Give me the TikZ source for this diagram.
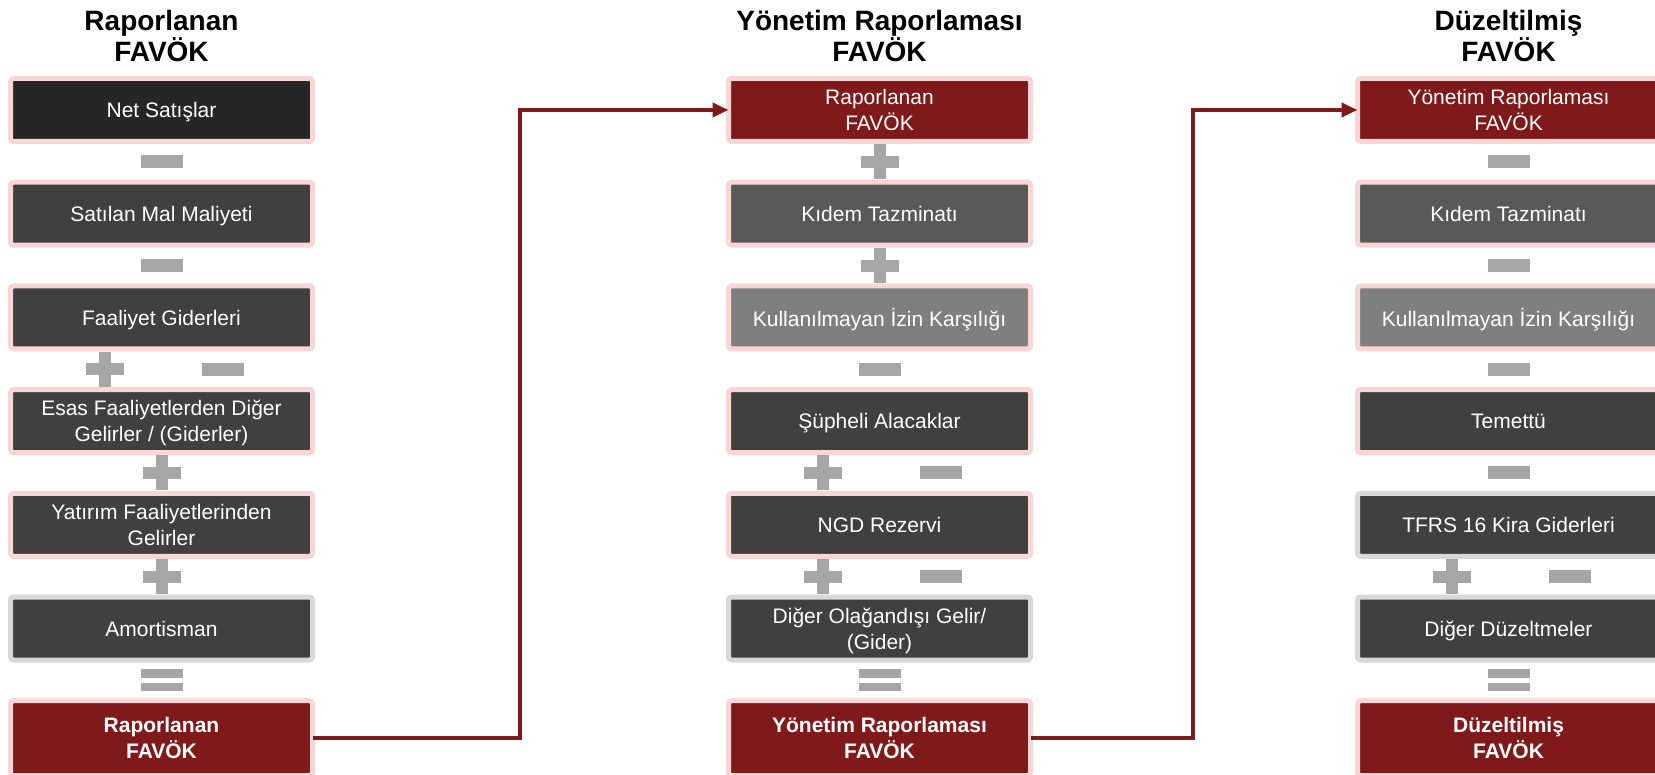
\documentclass[tikz,border=0pt]{standalone}
\usepackage{fontspec}
\setmainfont{Liberation Sans}
\usetikzlibrary{arrows.meta, positioning, calc}

\definecolor{favred}{RGB}{128,26,26}
\definecolor{netfill}{RGB}{38,38,38}
\definecolor{darkfill}{RGB}{64,64,64}
\definecolor{midfill}{RGB}{89,89,89}
\definecolor{lightfill}{RGB}{127,127,127}
\definecolor{pinkedge}{RGB}{249,214,214}
\definecolor{grayedge}{RGB}{217,217,217}
\definecolor{opgray}{RGB}{166,166,166}

\tikzset{
	minussign/.pic={\fill[opgray] (-21,-6.5) rectangle (21,6.5);},
	plussign/.pic={\fill[opgray] (-19,-6) rectangle (19,6);
		\fill[opgray] (-6,-17.5) rectangle (6,17.5);},
	equalsign/.pic={\fill[opgray] (-21,-11) rectangle (21,-2.5);
		\fill[opgray] (-21,2.5) rectangle (21,11);}
}

\begin{document}
\begin{tikzpicture}[
		x=0.5pt, y=-0.5pt,
		node distance=20.35pt,
		every node/.style={font=\fontsize{10.5pt}{13pt}\selectfont, text=white, align=center},
		stepbox/.style={rectangle, rounded corners=1.5pt, line width=2.5pt, minimum width=151pt, minimum height=31.5pt, inner sep=1pt, outer sep=0pt, text depth=0pt, draw=pinkedge, fill=darkfill},
		grayrim/.style={draw=grayedge},
		total/.style={stepbox, fill=favred, minimum height=37.5pt, font=\fontsize{10.5pt}{13pt}\selectfont\bfseries},
		title/.style={font=\fontsize{14pt}{15.5pt}\selectfont\bfseries, text=black, inner sep=0pt, outer sep=0pt},
		flow/.style={draw=favred, line width=2pt, -{Triangle[length=8pt, width=7pt]}}
		]
		\useasboundingbox (0,0) rectangle (1655,775);
		
		% Reported
		\node[stepbox, fill=netfill] at (161.5,110) (netsales) {Net Satışlar};
		\node[title, above=8.5pt of netsales] (title1) {Raporlanan\\FAVÖK};
		\node[stepbox, below=of netsales] (cogs) {Satılan Mal Maliyeti};
		\node[stepbox, below=of cogs] (opex) {Faaliyet Giderleri};
		\node[stepbox, below=of opex] (otherops) {Esas Faaliyetlerden Diğer\\Gelirler / (Giderler)};
		\node[stepbox, below=of otherops] (invest) {Yatırım Faaliyetlerinden\\Gelirler};
		\node[stepbox, grayrim, below=of invest] (amort) {Amortisman};
		\node[total, below=of amort] (repfavok) {Raporlanan\\FAVÖK};
		
		\pic at ($(netsales.south)!0.5!(cogs.north)$) {minussign};
		\pic at ($(cogs.south)!0.5!(opex.north)$) {minussign};
		\pic at ($(opex.south)!0.5!(otherops.north)+(-56.5,0)$) {plussign};
		\pic at ($(opex.south)!0.5!(otherops.north)+(61.5,0)$) {minussign};
		\pic at ($(otherops.south)!0.5!(invest.north)$) {plussign};
		\pic at ($(invest.south)!0.5!(amort.north)$) {plussign};
		\pic at ($(amort.south)!0.5!(repfavok.north)$) {equalsign};
		
		% Management reporting
		\node[stepbox, fill=favred] at (879.5,110) (mgmtstart) {Raporlanan\\FAVÖK};
		\node[title, above=8.5pt of mgmtstart] (title2) {Yönetim Raporlaması\\FAVÖK};
		\node[stepbox, fill=midfill, below=of mgmtstart] (severance) {Kıdem Tazminatı};
		\node[stepbox, fill=lightfill, below=of severance] (leave) {Kullanılmayan İzin Karşılığı};
		\node[stepbox, below=of leave] (doubtful) {Şüpheli Alacaklar};
		\node[stepbox, below=of doubtful] (ngd) {NGD Rezervi};
		\node[stepbox, grayrim, below=of ngd] (extra) {Diğer Olağandışı Gelir/\\(Gider)};
		\node[total, below=of extra] (mgmtfavok) {Yönetim Raporlaması\\FAVÖK};
		
		\pic at ($(mgmtstart.south)!0.5!(severance.north)$) {plussign};
		\pic at ($(severance.south)!0.5!(leave.north)$) {plussign};
		\pic at ($(leave.south)!0.5!(doubtful.north)$) {minussign};
		\pic at ($(doubtful.south)!0.5!(ngd.north)+(-56.5,0)$) {plussign};
		\pic at ($(doubtful.south)!0.5!(ngd.north)+(61.5,0)$) {minussign};
		\pic at ($(ngd.south)!0.5!(extra.north)+(-56.5,0)$) {plussign};
		\pic at ($(ngd.south)!0.5!(extra.north)+(61.5,0)$) {minussign};
		\pic at ($(extra.south)!0.5!(mgmtfavok.north)$) {equalsign};
		
		% Adjusted
		\node[stepbox, fill=favred] at (1508.5,110) (adjstart) {Yönetim Raporlaması\\FAVÖK};
		\node[title, above=8.5pt of adjstart] (title3) {Düzeltilmiş\\FAVÖK};
		\node[stepbox, fill=midfill, below=of adjstart] (severance3) {Kıdem Tazminatı};
		\node[stepbox, fill=lightfill, below=of severance3] (leave3) {Kullanılmayan İzin Karşılığı};
		\node[stepbox, below=of leave3] (dividend) {Temettü};
		\node[stepbox, grayrim, below=of dividend] (tfrs) {TFRS 16 Kira Giderleri};
		\node[stepbox, grayrim, below=of tfrs] (otheradj) {Diğer Düzeltmeler};
		\node[total, below=of otheradj] (adjfavok) {Düzeltilmiş\\FAVÖK};
		
		\pic at ($(adjstart.south)!0.5!(severance3.north)$) {minussign};
		\pic at ($(severance3.south)!0.5!(leave3.north)$) {minussign};
		\pic at ($(leave3.south)!0.5!(dividend.north)$) {minussign};
		\pic at ($(dividend.south)!0.5!(tfrs.north)$) {minussign};
		\pic at ($(tfrs.south)!0.5!(otheradj.north)+(-56.5,0)$) {plussign};
		\pic at ($(tfrs.south)!0.5!(otheradj.north)+(61.5,0)$) {minussign};
		\pic at ($(otheradj.south)!0.5!(adjfavok.north)$) {equalsign};
		
		% Links
		\draw[flow] (repfavok.east) -- ++(207.5,0) |- (mgmtstart.west);
		\draw[flow] (mgmtfavok.east) -- ++(162.5,0) |- (adjstart.west);
		
	\end{tikzpicture}
\end{document}
